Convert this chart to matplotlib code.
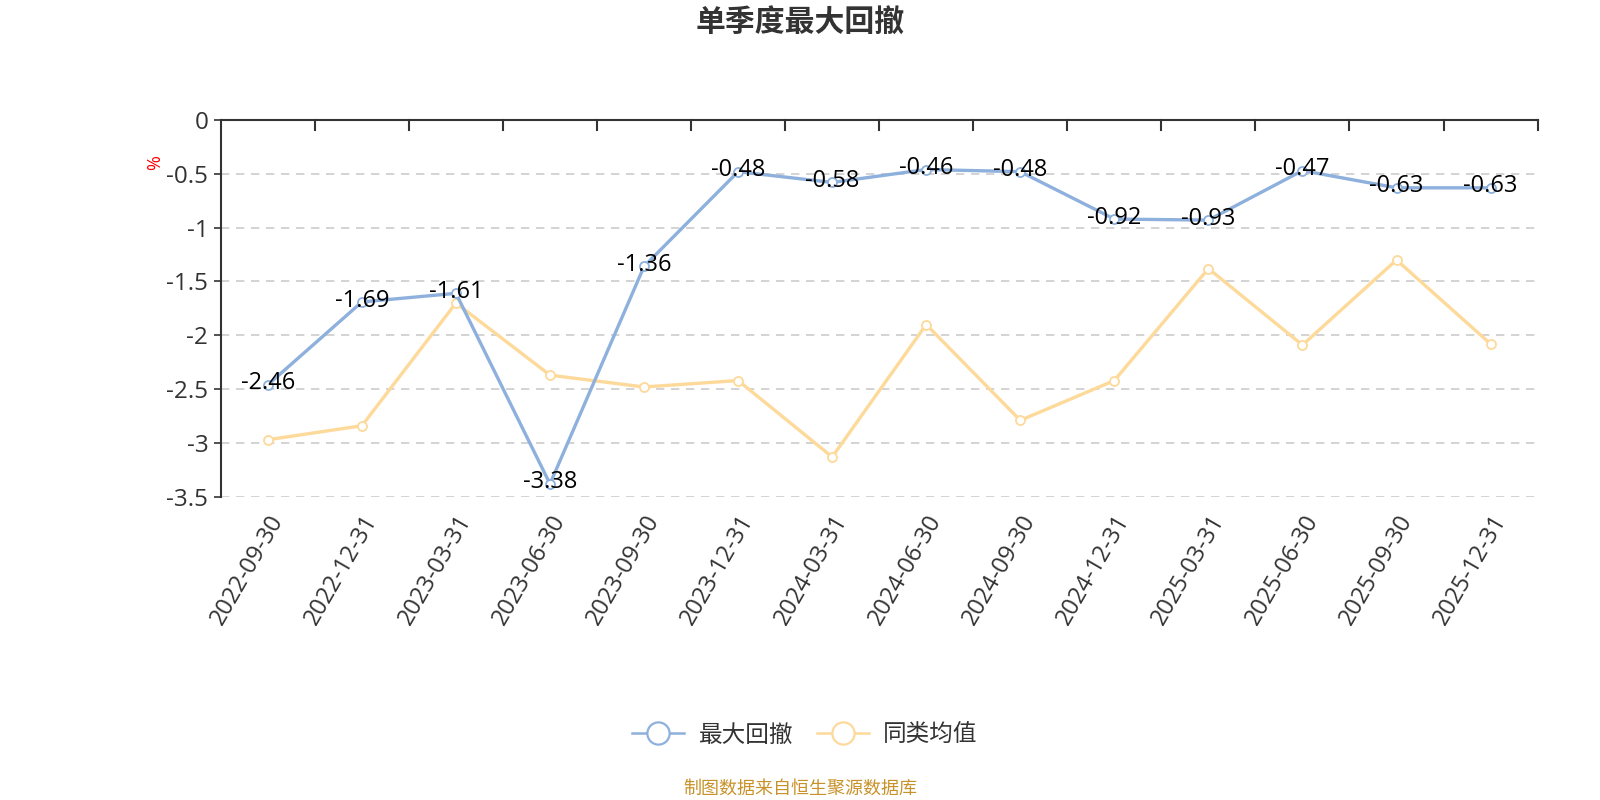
import numpy as np
import matplotlib
matplotlib.use("Agg")
import matplotlib.pyplot as plt
from matplotlib.lines import Line2D

plt.rcParams['font.family'] = ['Open Sans', 'Noto Sans CJK SC', 'DejaVu Sans']
plt.rcParams['axes.unicode_minus'] = False

dates = ['2022-09-30', '2022-12-31', '2023-03-31', '2023-06-30', '2023-09-30',
         '2023-12-31', '2024-03-31', '2024-06-30', '2024-09-30', '2024-12-31',
         '2025-03-31', '2025-06-30', '2025-09-30', '2025-12-31']
max_dd = [-2.46, -1.69, -1.61, -3.38, -1.36, -0.48, -0.58, -0.46, -0.48,
          -0.92, -0.93, -0.47, -0.63, -0.63]
peer_avg = [-2.97, -2.84, -1.70, -2.37, -2.48, -2.42, -3.13, -1.90, -2.79,
            -2.42, -1.38, -2.09, -1.30, -2.08]
yticks = [0, -0.5, -1, -1.5, -2, -2.5, -3, -3.5]

blue = '#8EB0DD'
orange = '#FDD99A'
cjk = ['Noto Sans CJK SC', 'DejaVu Sans']

fig = plt.figure(figsize=(16, 8), dpi=100)
ax = fig.add_axes([0.138, 0.379, 0.823, 0.471])

x = np.arange(len(dates))
ax.plot(x, max_dd, color=blue, lw=2.4, marker='o', ms=6.5,
        mfc='white', mec=blue, mew=1.3, zorder=4)
ax.plot(x, peer_avg, color=orange, lw=2.4, marker='o', ms=6.5,
        mfc='white', mec=orange, mew=1.3, zorder=3)

for xi, v in zip(x, max_dd):
    ax.annotate('%g' % v, (xi, v), xytext=(0, 1), textcoords='offset points',
                ha='center', va='center', fontsize=17, color='black', zorder=5)

ax.set_xlim(-0.5, len(dates) - 0.5)
ax.set_ylim(-3.5, 0)
ax.set_yticks(yticks)
ax.set_yticklabels(['%g' % t for t in yticks], fontsize=17.5, color='#333333')
ax.tick_params(axis='y', length=5, width=1.2, color='#333333', pad=4)

for t in yticks[1:]:
    ax.axhline(t, color='#cccccc', lw=1.2, ls=(0, (5, 4)), zorder=1)

ax.spines['right'].set_visible(False)
ax.spines['bottom'].set_visible(False)
ax.spines['left'].set_color('#333333')
ax.spines['left'].set_linewidth(1.5)
ax.spines['top'].set_color('#333333')
ax.spines['top'].set_linewidth(1.5)

# x labels under plot, ticks on top axis line at category boundaries
ax.set_xticks(x)
ax.set_xticklabels(dates, rotation=60, ha='right', rotation_mode='anchor',
                   fontsize=17, color='#333333')
ax.tick_params(axis='x', length=0, pad=10)
for b in np.arange(-0.5, len(dates), 1.0)[1:]:
    ax.plot([b, b], [0, -0.09], color='#333333', lw=1.5, clip_on=False, zorder=2)

ax.text(-0.05, 0.886, '%', transform=ax.transAxes, color='red', fontsize=13,
        rotation=90, ha='center', va='center')

fig.text(0.5, 0.972, '单季度最大回撤', ha='center', va='center', fontsize=21.5,
         fontweight='bold', color='#333333', family=cjk)

handles = [Line2D([0], [0], color=blue, lw=1.8, marker='o', ms=16, mfc='white',
                  mec=blue, mew=1.6),
           Line2D([0], [0], color=orange, lw=1.8, marker='o', ms=16, mfc='white',
                  mec=orange, mew=1.6)]
leg = fig.legend(handles, ['最大回撤', '同类均值'], loc='center', bbox_to_anchor=(0.503, 0.081),
                 ncol=2, frameon=False, handlelength=2.2, columnspacing=1.0,
                 handletextpad=0.6, labelcolor='#333333', prop={'family': cjk, 'size': 17})

fig.text(0.5, 0.014, '制图数据来自恒生聚源数据库', ha='center', va='center',
         fontsize=13, color='#C8922A', family=cjk)

fig.savefig('out.png', dpi=100)
